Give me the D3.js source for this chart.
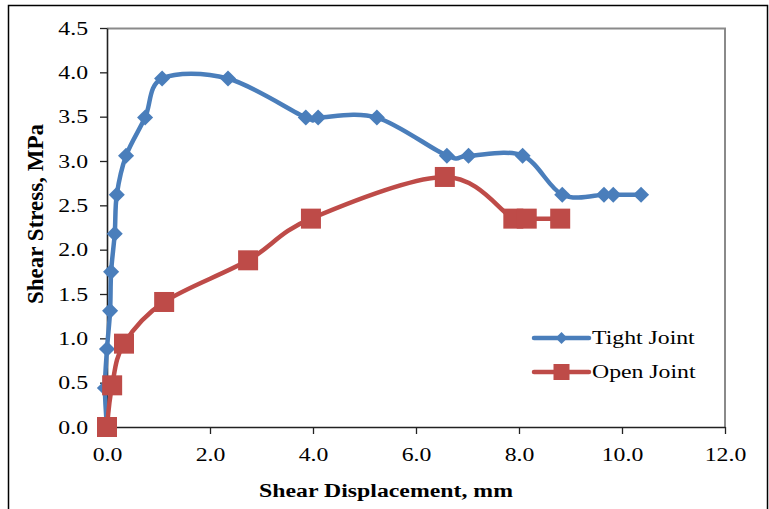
<!DOCTYPE html>
<html>
<head>
<meta charset="utf-8">
<script src="https://d3js.org/d3.v7.min.js"></script>
<style>
  body { margin: 0; background: #fff; }
  text { font-family: "Liberation Serif", "Times New Roman", serif; fill: #000; }
</style>
</head>
<body>
<div id="chart"></div>
<script>
// data
var tightX = [0, -0.04, 0.0, 0.06, 0.08, 0.15, 0.19, 0.37, 0.74, 1.07, 2.35, 3.86, 4.10, 5.24, 6.60, 7.02, 8.07, 8.84, 9.65, 9.83, 10.37];
var tightY = [0, 0.44, 0.88, 1.31, 1.75, 2.18, 2.62, 3.06, 3.49, 3.93, 3.93, 3.49, 3.49, 3.49, 3.06, 3.06, 3.06, 2.62, 2.62, 2.62, 2.62];

var openX = [0, 0.10, 0.33, 1.11, 2.74, 3.96, 6.56, 7.89, 8.15, 8.80];
var openY = [0, 0.47, 0.94, 1.41, 1.88, 2.35, 2.82, 2.35, 2.35, 2.35];

var xTicks = [0, 2, 4, 6, 8, 10, 12];
var yTicks = [0, 0.5, 1, 1.5, 2, 2.5, 3, 3.5, 4, 4.5];

var seriesNames = ["Tight Joint", "Open Joint"];
var seriesColors = ["#4a7ebb", "#be4b48"];

// plot area
var svgWidth = 769;
var svgHeight = 509;

var margin = { top: 28, right: 44, bottom: 82, left: 107 };
var width = svgWidth - margin.left - margin.right;
var height = svgHeight - margin.top - margin.bottom;

var stretch = 1.25; // the glyphs in the picture are drawn wide

var svg = d3.select("#chart")
  .append("svg")
  .attr("width", svgWidth)
  .attr("height", svgHeight);

// outer frame
svg.append("rect")
  .attr("x", 8.5)
  .attr("y", 5.5)
  .attr("width", 759)
  .attr("height", 520)
  .attr("fill", "none")
  .attr("stroke", "#000")
  .attr("stroke-width", 1.5);

var chartGroup = svg.append("g")
  .attr("transform", `translate(${margin.left}, ${margin.top})`);

var xScale = d3.scaleLinear().domain([0, 12]).range([0, width]);
var yScale = d3.scaleLinear().domain([0, 4.5]).range([height, 0]);

// grey border of plot area (top and right)
chartGroup.append("path")
  .attr("d", `M0,0.5H${width}V${height}`)
  .attr("fill", "none")
  .attr("stroke", "#8a8a8a")
  .attr("stroke-width", 2);

// axes
var xAxis = chartGroup.append("g")
  .attr("transform", `translate(0, ${height})`)
  .call(d3.axisBottom(xScale).tickValues(xTicks).tickFormat(d3.format(".1f")).tickSize(7).tickSizeOuter(0));

var yAxis = chartGroup.append("g")
  .call(d3.axisLeft(yScale).tickValues(yTicks).tickFormat(d3.format(".1f")).tickSize(7).tickSizeOuter(0));

[xAxis, yAxis].forEach(function(ax) {
  ax.select(".domain").attr("stroke", "#222").attr("stroke-width", 1.6);
  ax.selectAll(".tick line").attr("stroke", "#222").attr("stroke-width", 1.3);
  ax.selectAll(".tick text")
    .style("font-family", "'Liberation Serif', 'Times New Roman', serif")
    .style("font-size", "19px")
    .attr("fill", "#222");
});

xAxis.selectAll(".tick text")
  .attr("y", 21)
  .attr("transform", `scale(${stretch},1)`);

yAxis.selectAll(".tick text")
  .attr("x", -19 / stretch)
  .attr("transform", `scale(${stretch},1)`);

// axis titles
svg.append("text")
  .attr("transform", `translate(386, 497) scale(1.22,1)`)
  .attr("text-anchor", "middle")
  .style("font-size", "19.5px")
  .style("font-weight", "bold")
  .text("Shear Displacement, mm");

svg.append("text")
  .attr("transform", "translate(43, 214) rotate(-90)")
  .attr("text-anchor", "middle")
  .style("font-size", "23px")
  .style("font-weight", "bold")
  .text("Shear Stress, MPa");

// smoothed lines like the spreadsheet does
var line = d3.line()
  .x(d => xScale(d[0]))
  .y(d => yScale(d[1]))
  .curve(d3.curveCardinal.tension(0));

var tightData = tightX.map((x, i) => [x, tightY[i]]);
var openData = openX.map((x, i) => [x, openY[i]]);

var diamond = d3.symbol().type(d3.symbolDiamond2).size(165);

// tight joint
chartGroup.append("path")
  .datum(tightData)
  .attr("d", line)
  .attr("fill", "none")
  .attr("stroke", seriesColors[0])
  .attr("stroke-width", 4.5)
  .attr("stroke-linejoin", "round");

chartGroup.append("g")
  .selectAll("path")
  .data(tightData)
  .enter()
  .append("path")
  .attr("transform", d => `translate(${xScale(d[0])}, ${yScale(d[1])})`)
  .attr("d", diamond)
  .attr("fill", seriesColors[0]);

// open joint
chartGroup.append("path")
  .datum(openData)
  .attr("d", line)
  .attr("fill", "none")
  .attr("stroke", seriesColors[1])
  .attr("stroke-width", 4.5)
  .attr("stroke-linejoin", "round");

chartGroup.append("g")
  .selectAll("rect")
  .data(openData)
  .enter()
  .append("rect")
  .attr("x", d => xScale(d[0]) - 10)
  .attr("y", d => yScale(d[1]) - 10)
  .attr("width", 20)
  .attr("height", 20)
  .attr("fill", seriesColors[1]);

// legend
var legend = svg.append("g").attr("transform", "translate(534, 338)");

seriesNames.forEach(function(name, i) {
  var row = legend.append("g").attr("transform", `translate(0, ${i * 34})`);
  row.append("line")
    .attr("x1", 0).attr("x2", 55)
    .attr("stroke", seriesColors[i])
    .attr("stroke-width", 4.5)
    .attr("stroke-linecap", "round");
  if (i === 0) {
    row.append("path")
      .attr("transform", "translate(27.5,0)")
      .attr("d", d3.symbol().type(d3.symbolDiamond2).size(90))
      .attr("fill", seriesColors[i]);
  } else {
    row.append("rect")
      .attr("x", 19.5).attr("y", -8)
      .attr("width", 16).attr("height", 16)
      .attr("fill", seriesColors[i]);
  }
  row.append("text")
    .attr("transform", `translate(58, 0) scale(${stretch},1)`)
    .attr("dy", "0.33em")
    .style("font-size", "19px")
    .text(name);
});
</script>
</body>
</html>
